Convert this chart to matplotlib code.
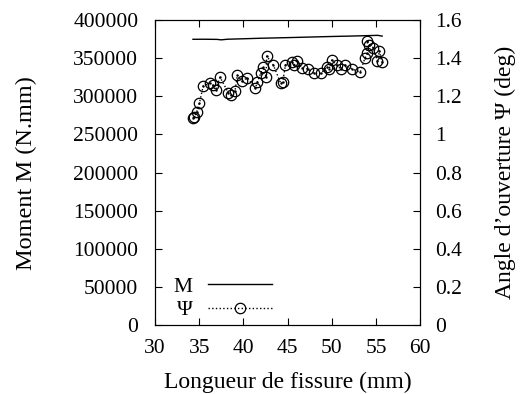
import numpy as np
import matplotlib
matplotlib.use('Agg')
import matplotlib.pyplot as plt

# crack length (mm) and moment M (N.mm)
m_x = [34.3, 35.5, 37.0, 37.5, 38.2, 40.0, 42.0, 45.0, 48.0, 50.0, 52.0, 54.0, 55.2, 55.7]
m_y = [374800, 374900, 374700, 374100, 374900, 375500, 376200, 377000, 377900, 378500, 379000, 379600, 380000, 379000]

# crack length (mm) and opening angle psi (deg)
psi_x = [34.27, 34.45, 34.72, 35.02, 35.47, 36.23, 36.53, 36.87, 37.36, 38.30,
         38.57, 39.06, 39.32, 39.81, 40.45, 41.36, 41.59, 41.96, 42.19, 42.57,
         42.64, 43.39, 44.23, 44.45, 44.76, 45.47, 45.74, 46.04, 46.60, 47.29,
         48.00, 48.79, 49.43, 49.70, 50.00, 50.57, 51.02, 51.51, 52.34, 53.21,
         53.77, 53.97, 54.04, 54.26, 54.72, 55.17, 55.40, 55.66]
psi_y = [1.088, 1.093, 1.119, 1.163, 1.256, 1.268, 1.259, 1.233, 1.300, 1.219,
         1.207, 1.229, 1.312, 1.280, 1.297, 1.242, 1.277, 1.320, 1.355, 1.300,
         1.411, 1.364, 1.268, 1.275, 1.364, 1.381, 1.364, 1.387, 1.350, 1.343,
         1.320, 1.320, 1.355, 1.343, 1.390, 1.364, 1.343, 1.364, 1.343, 1.326,
         1.403, 1.425, 1.492, 1.469, 1.455, 1.385, 1.439, 1.378]

plt.rcParams['font.family'] = ['Liberation Serif', 'DejaVu Serif']
plt.rcParams['font.size'] = 15.5

fig = plt.figure(figsize=(5.2, 3.94), dpi=100)
ax = fig.add_axes([0.298, 0.175, 0.51, 0.774])
ax2 = ax.twinx()

l1, = ax.plot(m_x, m_y, '-', color='black', lw=1.0, label='M')
l2, = ax2.plot(psi_x, psi_y, ':', color='black', lw=1.0, marker='o', ms=7.5,
               mfc='none', mec='black', mew=0.9, label='Ψ')
ax2.plot(psi_x, psi_y, '.', color='black', ms=1.5)

ax.set_xlim(30, 60)
ax.set_ylim(0, 400000)
ax2.set_ylim(0, 1.6)
ax.set_xticks([30, 35, 40, 45, 50, 55, 60])
ax.set_yticks(np.arange(0, 400001, 50000))
ax2.set_yticks([0, 0.2, 0.4, 0.6, 0.8, 1.0, 1.2, 1.4, 1.6])
ax2.set_yticklabels(['0', '0.2', '0.4', '0.6', '0.8', '1', '1.2', '1.4', '1.6'])

ax.tick_params(direction='in', top=True, length=5, width=0.8)
ax.tick_params(axis='y', pad=12)
ax.tick_params(axis='x', pad=10)
ax2.tick_params(direction='in', length=5, width=0.8, pad=11)

ax.set_xlabel('Longueur de fissure (mm)', fontsize=17, labelpad=10)
ax.set_ylabel('Moment M (N.mm)', fontsize=17.5, labelpad=26)
ax2.set_ylabel('Angle d’ouverture Ψ (deg)', fontsize=17, labelpad=23)

ax.legend(handles=[l1, l2], loc='lower left', frameon=False, markerfirst=False,
          handlelength=3.0, handletextpad=0.7, labelspacing=0.15,
          borderaxespad=0.3, bbox_to_anchor=(0.014, -0.033))

fig.savefig('out.png', dpi=100)
